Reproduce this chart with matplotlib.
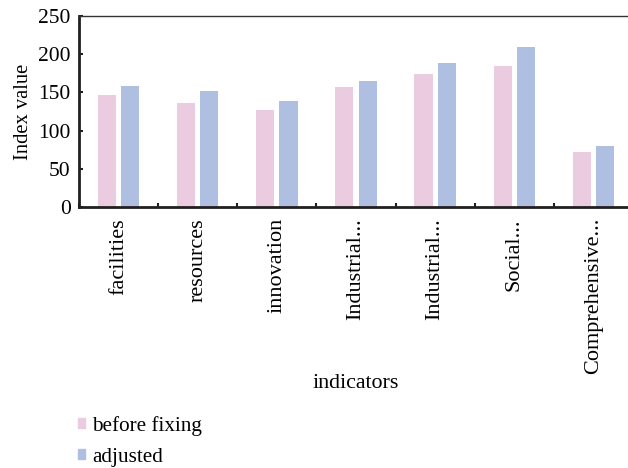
import matplotlib
matplotlib.use("Agg")
import matplotlib.pyplot as plt
import numpy as np
from matplotlib.patches import Patch

categories = ["facilities", "resources", "innovation", "Industrial...", "Industrial...", "Social...", "Comprehensive..."]
before_fixing = [147, 136, 127, 157, 174, 185, 72]
adjusted = [158, 152, 139, 165, 188, 209, 80]
yticks = [0, 50, 100, 150, 200, 250]

pink = "#EBCBE0"
blue = "#AEBFE2"

plt.rcParams['font.family'] = ['Liberation Serif', 'DejaVu Serif']

fig = plt.figure(figsize=(6.28, 4.68), dpi=100)
ax = fig.add_axes([79/628, 1-207/468, (633-79)/628, (207-16)/468])

x = np.arange(len(categories))
w = 0.23
ax.bar(x - 0.147, before_fixing, width=w, color=pink, label="before fixing")
ax.bar(x + 0.147, adjusted, width=w, color=blue, label="adjusted")

ax.set_xlim(-0.5, len(categories) - 0.5)
ax.set_ylim(0, 250)
ax.set_yticks(yticks)
ax.set_xticks(np.arange(len(categories) + 1) - 0.5, minor=False)
ax.set_xticklabels([])
ax.set_xticks(x, minor=True)
ax.set_xticklabels(categories, minor=True, rotation=90, fontsize=16)
ax.tick_params(axis='x', which='major', direction='in', length=3, width=1.5, color='#231f20')
ax.tick_params(axis='x', which='minor', length=0, pad=8)
ax.tick_params(axis='y', direction='in', length=3, width=1.5, labelsize=15.5, pad=6, color='#231f20')

for s in ['left', 'bottom']:
    ax.spines[s].set_linewidth(2.0)
    ax.spines[s].set_color('#231f20')
ax.spines['top'].set_linewidth(1.0)
ax.spines['top'].set_color('#333333')
ax.spines['right'].set_visible(False)

ax.set_ylabel("Index value", fontsize=14.8, labelpad=4)
ax.set_xlabel("indicators", fontsize=15.8)
ax.xaxis.set_label_coords((356-79)/(633-79), -(384-207)/(207-16))
ax.xaxis.label.set_verticalalignment('center')

handles = [Patch(color=pink, label="before fixing"), Patch(color=blue, label="adjusted")]
fig.legend(handles=handles, loc='upper left', bbox_to_anchor=(78/628, 1-416/468),
           frameon=False, fontsize=15.2, handlelength=0.33, handleheight=0.33,
           handletextpad=0.35, labelspacing=0.55, borderaxespad=0, borderpad=0)

fig.savefig("out.png", dpi=100)
